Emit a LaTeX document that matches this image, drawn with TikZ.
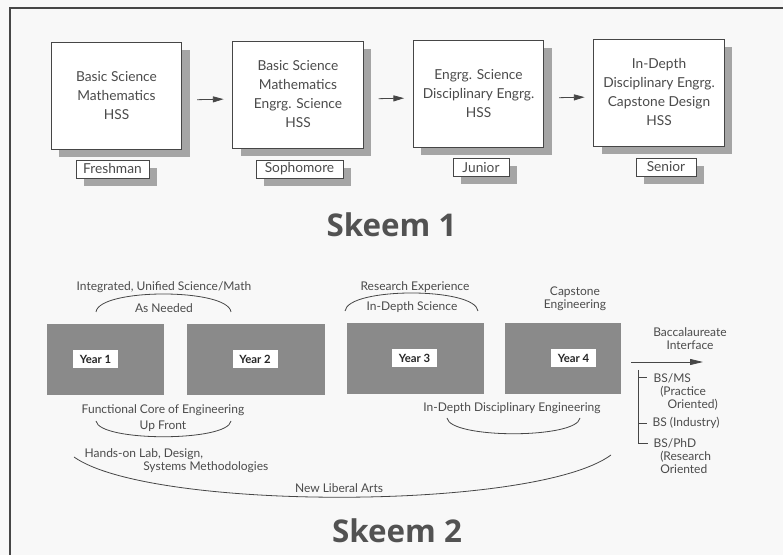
\documentclass[tikz,border=0pt]{standalone}
\usepackage{fontspec}
\setmainfont{Lato}
\newfontfamily\headfont{Open Sans}
\usetikzlibrary{arrows.meta,shadows,calc}
\definecolor{inkgray}{RGB}{70,70,70}
\definecolor{txtgray}{RGB}{75,75,75}
\definecolor{shadegray}{RGB}{165,165,165}
\definecolor{yeargray}{RGB}{138,138,138}
\definecolor{pagegray}{RGB}{248,248,248}
\begin{document}
\begin{tikzpicture}[x=0.75pt,y=0.75pt,yscale=-1,xscale=1,
  plan/.style={draw=inkgray,fill=white,line width=0.6pt,minimum width=98pt,minimum height=80.25pt,
    align=center,text=txtgray,font=\fontsize{10.3}{14.25}\selectfont,
    drop shadow={shadow xshift=6pt,shadow yshift=-6pt,fill=shadegray,opacity=1}},
  term/.style={draw=inkgray,fill=white,line width=0.6pt,minimum height=13.5pt,inner sep=0pt,
    text=txtgray,font=\fontsize{10.3}{12}\selectfont,
    drop shadow={shadow xshift=6pt,shadow yshift=-6pt,fill=shadegray,opacity=1}},
  flow/.style={draw=inkgray,line width=0.6pt,-{Triangle[length=8pt,width=4.5pt]},shorten <=11.25pt,shorten >=6.5pt},
  yearblock/.style={fill=yeargray,minimum height=53.25pt,inner sep=0pt},
  yeartag/.style={fill=white,minimum width=33.75pt,minimum height=13.5pt,inner sep=0pt,
    text=black!85,font=\fontsize{8.5}{10}\selectfont\bfseries},
  note/.style={text=txtgray,inner sep=1pt,font=\fontsize{9}{9.75}\selectfont},
  brace/.style={draw=inkgray,line width=0.6pt},
  heading/.style={text=black!68,font=\headfont\bfseries\fontsize{23.5}{26}\selectfont}]
%uncomment if require: \path (0,555); %set diagram left start at 0, and has height of 555
\fill[pagegray] (0,0) rectangle (783,555);
\useasboundingbox (0,0) rectangle (783,555);

%Straight Lines: frame
\draw[inkgray,line width=1pt] (783,8) -- (10,8) -- (10,555);

%Shape: Rectangle: four years, Skeem 1
\node[plan] (fr) at (116.5,95.5) {Basic Science\\Mathematics\\HSS};
\node[plan] (so) at (298,94.5) {Basic Science\\Mathematics\\Engrg. Science\\HSS};
\node[plan] (ju) at (478.5,93.5) {Engrg. Science\\Disciplinary Engrg.\\HSS};
\node[plan] (se) at (659,92.5) {In-Depth\\Disciplinary Engrg.\\Capstone Design\\HSS};

%Shape: Rectangle: year names
\node[term,minimum width=54.75pt] (frl) at (112.5,169) {Freshman};
\node[term,minimum width=65.25pt] (sol) at (299.5,169) {Sophomore};
\node[term,minimum width=42pt] (jul) at (481,167.5) {Junior};
\node[term,minimum width=45pt] (sel) at (666,167) {Senior};

%Straight Lines: arrows
\draw[flow] ($(fr.east)+(0,4.5)$) -- ($(so.west)+(0,4.5)$);
\draw[flow] ($(so.east)+(0,4.5)$) -- ($(ju.west)+(0,4.5)$);
\draw[flow] ($(ju.east)+(0,4.5)$) -- ($(se.west)+(0,4.5)$);

% Text Node
\node[heading] (sk1) at (391.5,225) {Skeem 1};

%Shape: Rectangle: year blocks, Skeem 2
\node[yearblock,minimum width=87.75pt] (y1) at (105.5,359.5) {};
\node[yearblock,minimum width=103.5pt] (y2) at (256,359.5) {};
\node[yearblock,minimum width=102.75pt] (y3) at (415.5,358.5) {};
\node[yearblock,minimum width=87pt] (y4) at (563,358.5) {};
\node[yeartag] (y1t) at (95.5,359) {Year 1};
\node[yeartag] (y2t) at (255,359) {Year 2};
\node[yeartag] (y3t) at (414.5,358.5) {Year 3};
\node[yeartag] (y4t) at (573.5,358) {Year 4};

% Text Node
\node[note] (integ) at (164,287) {Integrated, Unified Science/Math};
\node[note] (asneed) at (164,308) {As Needed};
\node[note] (resexp) at (415,287) {Research Experience};
\node[note] (indsci) at (412,307) {In-Depth Science};
\node[note,align=center] (capst) at (575,299) {Capstone\\Engineering};
\node[note,align=center] (bacc) at (690,338.5) {Baccalaureate\\Interface};
\node[note] (func) at (163,410) {Functional Core of Engineering};
\node[note] (upfr) at (163,426) {Up Front};
\node[note] (indis) at (512,408) {In-Depth Disciplinary Engineering};
\node[note,align=left,anchor=north west] (hands) at (83,447) {Hands-on Lab, Design,\\\hspace*{44pt}Systems Methodologies};
\node[note] (nla) at (339,488) {New Liberal Arts};

%Curve Lines
\coordinate (a1l) at (96,312); \coordinate (a1r) at (231,312);
\coordinate (a2l) at (345,311); \coordinate (a2r) at (478,311);
\coordinate (b1l) at (96,421); \coordinate (b1r) at (231,421);
\coordinate (b2l) at (447,418); \coordinate (b2r) at (580,418);
\coordinate (b3l) at (74,457); \coordinate (b3r) at (611,455);
\draw[brace] (a1l) .. controls (99,288) and (228,288) .. (a1r);
\draw[brace] (a2l) .. controls (348,287) and (475,287) .. (a2r);
\draw[brace] (b1l) .. controls (99,442) and (228,442) .. (b1r);
\draw[brace] (b2l) .. controls (450,439) and (577,439) .. (b2r);
\draw[brace] (b3l) .. controls (150,511) and (535,511) .. (b3r);

%Straight Lines: interface arrow
\coordinate (bi) at (703,362);
\draw[flow,-{Triangle[length=9.75pt,width=4.5pt]},shorten <=7.5pt,shorten >=0pt] (y4.east |- bi) -- (bi);

%Straight Lines: degree bracket
\draw[brace] (638,370) -- (638,443) -- (648,443);
\draw[brace] (638,377) -- (647,377);
\draw[brace] (638,423) -- (647,423);

% Text Node
\node[note,align=left,anchor=north west] (bsms) at (652,372.5) {BS/MS\\\hspace*{5pt}(Practice\\\hspace*{10.5pt}Oriented)};
\node[note,anchor=west] (bsind) at (651,423) {BS (Industry)};
\node[note,align=left,anchor=north west] (bsphd) at (652,437) {BS/PhD\\\hspace*{5pt}(Research\\\hspace*{5pt}Oriented};

% Text Node
\node[heading] (sk2) at (397,531) {Skeem 2};

\end{tikzpicture}
\end{document}
